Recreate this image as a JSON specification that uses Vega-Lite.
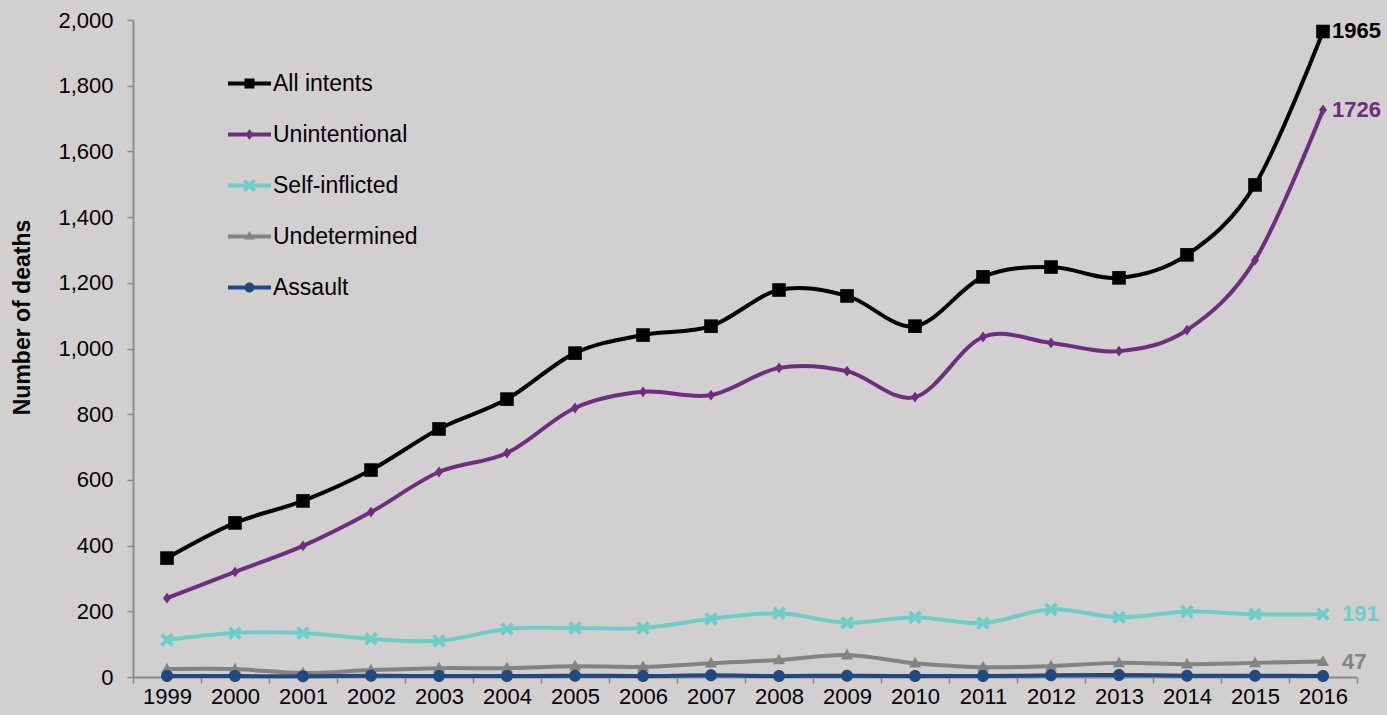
{
  "$schema": "https://vega.github.io/schema/vega-lite/v6.json",
  "width": 1224,
  "height": 657,
  "autosize": {"type": "none"},
  "padding": {"left": 133, "top": 20, "right": 30, "bottom": 38},
  "background": "#d1cfcf",
  "config": {
    "view": {"stroke": null},
    "font": "Liberation Sans",
    "axis": {"labelFont": "Liberation Sans", "titleFont": "Liberation Sans", "labelColor": "#000000", "titleColor": "#000000", "domainColor": "#8c8c8c", "tickColor": "#8c8c8c", "domainWidth": 2, "tickWidth": 1.5, "grid": false}
  },
  "data": {
    "values": [
      {"year": "1999", "series": "All intents", "value": 362},
      {"year": "2000", "series": "All intents", "value": 469},
      {"year": "2001", "series": "All intents", "value": 536},
      {"year": "2002", "series": "All intents", "value": 630},
      {"year": "2003", "series": "All intents", "value": 755},
      {"year": "2004", "series": "All intents", "value": 846},
      {"year": "2005", "series": "All intents", "value": 986},
      {"year": "2006", "series": "All intents", "value": 1041},
      {"year": "2007", "series": "All intents", "value": 1068},
      {"year": "2008", "series": "All intents", "value": 1178},
      {"year": "2009", "series": "All intents", "value": 1160},
      {"year": "2010", "series": "All intents", "value": 1068},
      {"year": "2011", "series": "All intents", "value": 1218},
      {"year": "2012", "series": "All intents", "value": 1248},
      {"year": "2013", "series": "All intents", "value": 1215},
      {"year": "2014", "series": "All intents", "value": 1285},
      {"year": "2015", "series": "All intents", "value": 1498},
      {"year": "2016", "series": "All intents", "value": 1965},
      {"year": "1999", "series": "Unintentional", "value": 240},
      {"year": "2000", "series": "Unintentional", "value": 320},
      {"year": "2001", "series": "Unintentional", "value": 399},
      {"year": "2002", "series": "Unintentional", "value": 502},
      {"year": "2003", "series": "Unintentional", "value": 624},
      {"year": "2004", "series": "Unintentional", "value": 682},
      {"year": "2005", "series": "Unintentional", "value": 819},
      {"year": "2006", "series": "Unintentional", "value": 868},
      {"year": "2007", "series": "Unintentional", "value": 858},
      {"year": "2008", "series": "Unintentional", "value": 941},
      {"year": "2009", "series": "Unintentional", "value": 931},
      {"year": "2010", "series": "Unintentional", "value": 852},
      {"year": "2011", "series": "Unintentional", "value": 1035},
      {"year": "2012", "series": "Unintentional", "value": 1017},
      {"year": "2013", "series": "Unintentional", "value": 992},
      {"year": "2014", "series": "Unintentional", "value": 1056},
      {"year": "2015", "series": "Unintentional", "value": 1269},
      {"year": "2016", "series": "Unintentional", "value": 1726},
      {"year": "1999", "series": "Self-inflicted", "value": 113},
      {"year": "2000", "series": "Self-inflicted", "value": 134},
      {"year": "2001", "series": "Self-inflicted", "value": 134},
      {"year": "2002", "series": "Self-inflicted", "value": 116},
      {"year": "2003", "series": "Self-inflicted", "value": 110},
      {"year": "2004", "series": "Self-inflicted", "value": 146},
      {"year": "2005", "series": "Self-inflicted", "value": 149},
      {"year": "2006", "series": "Self-inflicted", "value": 149},
      {"year": "2007", "series": "Self-inflicted", "value": 177},
      {"year": "2008", "series": "Self-inflicted", "value": 194},
      {"year": "2009", "series": "Self-inflicted", "value": 165},
      {"year": "2010", "series": "Self-inflicted", "value": 182},
      {"year": "2011", "series": "Self-inflicted", "value": 164},
      {"year": "2012", "series": "Self-inflicted", "value": 206},
      {"year": "2013", "series": "Self-inflicted", "value": 182},
      {"year": "2014", "series": "Self-inflicted", "value": 199},
      {"year": "2015", "series": "Self-inflicted", "value": 191},
      {"year": "2016", "series": "Self-inflicted", "value": 191},
      {"year": "1999", "series": "Undetermined", "value": 24},
      {"year": "2000", "series": "Undetermined", "value": 24},
      {"year": "2001", "series": "Undetermined", "value": 12},
      {"year": "2002", "series": "Undetermined", "value": 21},
      {"year": "2003", "series": "Undetermined", "value": 27},
      {"year": "2004", "series": "Undetermined", "value": 27},
      {"year": "2005", "series": "Undetermined", "value": 33},
      {"year": "2006", "series": "Undetermined", "value": 31},
      {"year": "2007", "series": "Undetermined", "value": 42},
      {"year": "2008", "series": "Undetermined", "value": 52},
      {"year": "2009", "series": "Undetermined", "value": 67},
      {"year": "2010", "series": "Undetermined", "value": 42},
      {"year": "2011", "series": "Undetermined", "value": 30},
      {"year": "2012", "series": "Undetermined", "value": 33},
      {"year": "2013", "series": "Undetermined", "value": 43},
      {"year": "2014", "series": "Undetermined", "value": 39},
      {"year": "2015", "series": "Undetermined", "value": 43},
      {"year": "2016", "series": "Undetermined", "value": 47},
      {"year": "1999", "series": "Assault", "value": 3},
      {"year": "2000", "series": "Assault", "value": 3},
      {"year": "2001", "series": "Assault", "value": 2},
      {"year": "2002", "series": "Assault", "value": 4},
      {"year": "2003", "series": "Assault", "value": 3},
      {"year": "2004", "series": "Assault", "value": 3},
      {"year": "2005", "series": "Assault", "value": 4},
      {"year": "2006", "series": "Assault", "value": 3},
      {"year": "2007", "series": "Assault", "value": 5},
      {"year": "2008", "series": "Assault", "value": 3},
      {"year": "2009", "series": "Assault", "value": 4},
      {"year": "2010", "series": "Assault", "value": 3},
      {"year": "2011", "series": "Assault", "value": 3},
      {"year": "2012", "series": "Assault", "value": 5},
      {"year": "2013", "series": "Assault", "value": 6},
      {"year": "2014", "series": "Assault", "value": 4},
      {"year": "2015", "series": "Assault", "value": 4},
      {"year": "2016", "series": "Assault", "value": 3}
    ]
  },
  "encoding": {
    "x": {
      "field": "year", "type": "ordinal",
      "scale": {"type": "band", "paddingInner": 0, "paddingOuter": 0},
      "axis": {"title": null, "labelAngle": 0, "labelFontSize": 22, "tickBand": "extent", "tickSize": 6, "labelPadding": 3}
    },
    "y": {
      "field": "value", "type": "quantitative",
      "scale": {"domain": [0, 2000], "nice": false},
      "axis": {"title": "Number of deaths", "titleFontSize": 23, "titleFontWeight": "bold", "titleX": -111, "titleY": 297, "titleBaseline": "middle", "titleAngle": -90, "titleAlign": "center", "values": [0, 200, 400, 600, 800, 1000, 1200, 1400, 1600, 1800, 2000], "format": ",.0f", "labelFontSize": 22, "tickSize": 6, "labelPadding": 14}
    },
    "color": {
      "field": "series", "type": "nominal",
      "scale": {"domain": ["All intents", "Unintentional", "Self-inflicted", "Undetermined", "Assault"], "range": ["#000000", "#6e2d7e", "#6fcdc7", "#838383", "#1f4a80"]},
      "legend": {
        "title": null, "orient": "none", "legendX": 105, "legendY": 52,
        "symbolSize": 400, "labelOffset": 12, "labelFontSize": 23, "labelFont": "Liberation Sans", "labelColor": "#000000",
        "rowPadding": 27, "symbolStrokeWidth": 0, "symbolOpacity": 1, "labelLimit": 300,
        "encode": {
          "symbols": {
            "update": {
              "shape": {"signal": "datum.value == 'All intents' ? 'M-2.15,-0.2H2.15V0.2H-2.15Z M-0.5,-0.5H0.5V0.5H-0.5Z' : datum.value == 'Unintentional' ? 'M-2.15,-0.2H2.15V0.2H-2.15Z M0,-0.55L0.4,0L0,0.55L-0.4,0Z' : datum.value == 'Self-inflicted' ? 'M-2.15,-0.2H2.15V0.2H-2.15Z M-0.65,-0.4L-0.4,-0.65L0,-0.25L0.4,-0.65L0.65,-0.4L0.25,0L0.65,0.4L0.4,0.65L0,0.25L-0.4,0.65L-0.65,0.4L-0.25,0Z' : datum.value == 'Undetermined' ? 'M-2.15,-0.2H2.15V0.2H-2.15Z M0,-0.55L0.5,0.3H-0.5Z' : 'M-2.15,-0.2H2.15V0.2H-2.15Z M-0.5,0A0.5,0.5 0 1,1 0.5,0A0.5,0.5 0 1,1 -0.5,0Z'"},
              "size": {"value": 400},
              "fill": {"scale": "color", "field": "value"},
              "stroke": {"value": "transparent"},
              "opacity": {"value": 1}
            }
          }
        }
      }
    }
  },
  "layer": [
    {
      "mark": {"type": "line", "interpolate": "cardinal", "strokeWidth": 4}
    },
    {
      "transform": [{"filter": "datum.series == 'All intents'"}],
      "mark": {"type": "point", "filled": true, "opacity": 1, "size": 256, "shape": "M-0.85,-0.85H0.85V0.85H-0.85Z"}
    },
    {
      "transform": [{"filter": "datum.series == 'Unintentional'"}],
      "mark": {"type": "point", "filled": true, "opacity": 1, "size": 256, "shape": "M0,-0.68L0.5,0L0,0.68L-0.5,0Z"}
    },
    {
      "transform": [{"filter": "datum.series == 'Self-inflicted'"}],
      "mark": {"type": "point", "filled": true, "opacity": 1, "size": 256, "shape": "M-0.85,-0.5L-0.5,-0.85L0,-0.35L0.5,-0.85L0.85,-0.5L0.35,0L0.85,0.5L0.5,0.85L0,0.35L-0.5,0.85L-0.85,0.5L-0.35,0Z"}
    },
    {
      "transform": [{"filter": "datum.series == 'Undetermined'"}],
      "mark": {"type": "point", "filled": true, "opacity": 1, "size": 256, "shape": "M0,-0.8L0.75,0.55H-0.75Z"}
    },
    {
      "transform": [{"filter": "datum.series == 'Assault'"}],
      "mark": {"type": "point", "filled": true, "opacity": 1, "size": 256, "shape": "M-0.75,0A0.75,0.75 0 1,1 0.75,0A0.75,0.75 0 1,1 -0.75,0Z"}
    },
    {
      "transform": [{"filter": "datum.year == '2016' && (datum.series == 'All intents' || datum.series == 'Unintentional')"}],
      "mark": {"type": "text", "align": "left", "baseline": "middle", "dx": 9, "fontSize": 22, "fontWeight": "bold", "font": "Liberation Sans"},
      "encoding": {"text": {"field": "value", "type": "quantitative", "format": "d"}}
    },
    {
      "transform": [{"filter": "datum.year == '2016' && (datum.series == 'Self-inflicted' || datum.series == 'Undetermined')"}],
      "mark": {"type": "text", "align": "left", "baseline": "middle", "dx": 19, "fontSize": 22, "fontWeight": "bold", "font": "Liberation Sans"},
      "encoding": {"text": {"field": "value", "type": "quantitative", "format": "d"}}
    }
  ]
}
